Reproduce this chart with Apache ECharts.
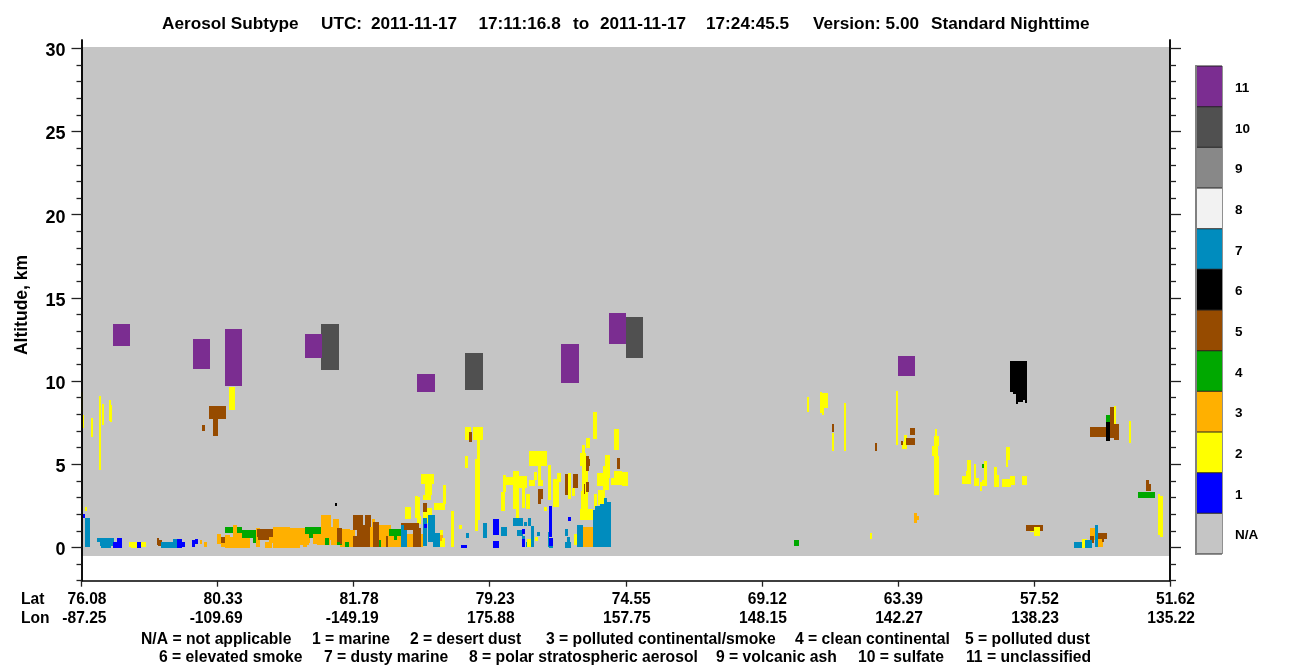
<!DOCTYPE html>
<html><head><meta charset="utf-8">
<style>html,body{margin:0;padding:0;background:#fff}#c{width:1300px;height:667px}</style>
<script src="https://cdn.jsdelivr.net/npm/echarts@6/dist/echarts.min.js"></script>
</head><body><div id="c"></div>
<script>
// Along-track position is in profile steps (136 steps per labelled tick); altitude is in 60 m range bins.
// Each row: [startStep, endStep, lowBin, highBin]
const BIN_KM = 0.0601;
const latLabels = ['76.08','80.33','81.78','79.23','74.55','69.12','63.39','57.52','51.62'];
const lonLabels = ['-87.25','-109.69','-149.19','175.88','157.75','148.15','142.27','138.23','135.22'];
const altMajor = [0,5,10,15,20,25,30];
const altMinor = [-2,-1,1,2,3,4,6,7,8,9,11,12,13,14,16,17,18,19,21,22,23,24,26,27,28,29];
const legendLabels = ['N/A','1','2','3','4','5','6','7','8','9','10','11'];
const legendColors = ['#c5c5c5','#0000ff','#ffff00','#ffb000','#00a800','#964b00','#000000','#008cbe','#f2f2f2','#888888','#505050','#7b2d91'];
const notApplicable = [[0,1088,-9,500]];
const unclassified = [[32,49,201,223],[112,129,178,208],[144,161,161,218],[224,241,189,213],[336,354,155,173],[480,498,164,203],[528,545,203,234],[817,834,171,191]];
const sulfate = [[240,258,177,223],[384,402,157,194],[545,562,189,230]];
const elevatedSmoke = [[254,256,41,44],[929,946,155,186],[932,946,153,155],[935,946,147,153],[935,937,143,147],[937,942,145,147],[944,946,144,147],[1025,1029,106,125]];
const dustyMarine = [[4,9,0,29],[16,33,5,9],[19,33,1,5],[20,30,-1,1],[80,92,-1,5],[92,96,-1,8],[320,323,0,22],[323,326,0,17],[342,346,1,29],[347,354,5,32],[352,359,0,14],[385,388,9,14],[402,406,9,24],[420,426,11,20],[432,442,21,29],[436,442,11,17],[443,446,21,25],[447,450,21,29],[450,453,0,21],[441,444,8,11],[445,446,0,5],[456,459,11,15],[467,468,0,15],[468,472,-1,1],[484,487,11,18],[486,489,5,10],[484,490,-1,5],[496,502,0,22],[512,514,0,37],[514,519,0,41],[519,523,0,43],[523,526,0,49],[526,530,0,45],[993,1001,-1,5],[1004,1011,-1,7],[1014,1017,0,22]];
const marine = [[2,4,29,33],[36,41,-1,9],[32,36,-1,5],[56,60,-1,5],[96,101,-1,8],[101,104,0,5],[111,114,0,7],[114,117,3,8],[343,346,19,23],[380,386,-1,2],[412,418,12,28],[412,418,-1,6],[441,444,13,18],[441,444,0,8],[468,471,10,41],[468,472,1,9],[487,490,26,30]];
const desertDust = [[0,2,135,155],[1,3,119,132],[10,12,110,129],[18,20,77,151],[21,23,122,143],[28,30,126,147],[29,31,125,142],[148,154,137,160],[4,6,36,40],[48,65,0,5],[50,56,-1,0],[324,330,28,40],[334,337,29,51],[337,339,31,50],[336,340,23,31],[340,353,63,73],[344,351,52,63],[342,350,47,52],[344,351,32,39],[342,348,24,35],[353,364,37,44],[362,365,43,62],[359,362,12,17],[359,362,0,6],[361,364,0,9],[370,373,0,36],[378,381,18,22],[384,390,107,120],[392,402,107,120],[396,399,88,107],[394,399,27,88],[394,397,16,27],[384,387,79,91],[420,424,36,55],[422,425,55,72],[425,432,62,70],[432,438,38,76],[438,446,59,71],[441,444,39,59],[445,449,38,53],[448,454,61,67],[453,456,67,75],[448,466,81,96],[457,460,61,81],[458,462,61,67],[463,466,36,40],[467,470,47,82],[472,478,40,68],[476,480,65,74],[435,438,27,38],[446,450,0,8],[454,457,6,10],[487,490,48,74],[491,494,51,59],[493,496,2,13],[499,512,27,38],[500,507,37,56],[501,507,56,81],[499,505,81,94],[501,504,94,102],[505,509,99,109],[512,516,108,135],[513,516,39,53],[517,524,42,57],[516,525,61,74],[522,528,57,81],[524,529,69,92],[533,538,97,118],[530,539,62,69],[533,541,62,76],[541,547,61,75],[536,539,78,89],[726,728,135,150],[739,741,134,155],[741,743,132,154],[743,747,139,154],[751,753,96,114],[763,765,96,144],[815,817,102,156],[789,791,8,14],[821,826,98,105],[823,826,105,112],[853,858,101,111],[854,856,111,118],[851,857,91,101],[853,858,52,91],[881,890,63,71],[885,890,71,76],[886,890,76,87],[893,895,69,83],[893,898,61,69],[899,901,56,65],[901,906,61,67],[903,906,67,86],[913,918,60,72],[913,916,72,80],[921,930,60,68],[929,934,62,71],[925,927,80,100],[927,929,87,100],[941,946,62,71],[953,959,11,20],[949,953,15,16],[1001,1006,-1,8],[1009,1011,4,10],[1033,1035,123,141],[1048,1050,104,126],[1077,1079,12,53],[1079,1082,10,51]];
const pollutedContinental = [[119,121,3,7],[123,126,0,5],[136,140,3,13],[144,169,-1,10],[140,144,0,4],[152,156,10,22],[144,149,10,12],[156,161,10,14],[175,179,0,19],[184,191,-1,5],[188,229,4,15],[192,209,-1,20],[196,219,-1,4],[209,228,2,19],[222,226,0,2],[232,244,3,13],[236,249,2,18],[240,250,7,32],[250,256,2,20],[252,258,14,28],[260,269,2,18],[258,260,2,15],[259,274,0,17],[268,272,0,11],[289,292,0,20],[291,294,20,28],[296,310,0,22],[298,321,0,11],[325,332,0,13],[340,342,0,13],[359,362,6,13],[500,512,0,20],[833,836,24,34],[836,838,27,31],[1009,1014,7,19],[1017,1022,0,11]];
const cleanContinental = [[144,152,14,20],[156,161,14,20],[161,175,9,17],[172,175,4,9],[224,240,13,20],[228,232,9,13],[244,248,2,9],[256,261,2,7],[264,268,0,5],[296,300,0,7],[308,321,11,18],[313,316,7,11],[713,718,1,7],[901,903,79,83],[1025,1029,125,132],[1057,1074,49,55]];
const pollutedDust = [[128,145,128,141],[132,137,111,128],[121,124,116,122],[76,78,2,9],[77,81,1,7],[140,144,4,10],[176,192,10,18],[177,188,7,10],[256,261,5,19],[259,261,3,19],[272,282,17,32],[284,290,20,32],[276,289,0,22],[272,276,0,11],[292,298,0,25],[305,307,0,11],[320,338,17,24],[332,340,0,19],[342,346,35,44],[388,391,105,115],[457,460,43,58],[460,462,48,58],[484,487,52,73],[492,497,59,73],[505,508,76,91],[508,509,81,88],[505,508,55,65],[503,504,53,63],[536,539,78,89],[751,753,115,123],[794,796,96,104],[825,834,102,109],[829,834,112,119],[820,822,102,106],[945,953,16,22],[953,959,20,22],[959,962,16,22],[1009,1013,4,11],[1017,1026,8,14],[1021,1023,5,8],[1009,1025,110,120],[1029,1033,109,140],[1033,1038,107,123],[1065,1068,63,67],[1065,1070,56,63]];
const titleParts = [['Aerosol Subtype',162],['UTC:',321],['2011-11-17',371],['17:11:16.8',478.5],['to',573],['2011-11-17',600],['17:24:45.5',706],['Version: 5.00',813],['Standard Nighttime',931]];
const noteLine1 = [['N/A = not applicable',141],['1 = marine',312],['2 = desert dust',410],['3 = polluted continental/smoke',546],['4 = clean continental',795],['5 = polluted dust',965]];
const noteLine2 = [['6 = elevated smoke',159],['7 = dusty marine',324],['8 = polar stratospheric aerosol',469],['9 = volcanic ash',716],['10 = sulfate',858],['11 = unclassified',966]];

const FONT = '"Liberation Sans", Arial, sans-serif';
const drawOrder = [
  [notApplicable,0],[pollutedContinental,3],[cleanContinental,4],[desertDust,2],[pollutedDust,5],
  [dustyMarine,7],[marine,1],[elevatedSmoke,6],[sulfate,10],[unclassified,11]
];
function renderCell(params, api){
  const a = api.coord([api.value(0), api.value(2)]);
  const b = api.coord([api.value(1), api.value(3)]);
  const x0 = Math.floor(a[0]), x1 = Math.floor(b[0]);
  const y0 = Math.round(a[1]), y1 = Math.round(b[1]);
  return {type:'rect', shape:{x:x0, y:y1, width:x1-x0, height:y0-y1}, style:{fill:api.visual('color')}};
}
const series = drawOrder.map(([rows,idx]) => ({
  type:'custom', name:legendLabels[idx], coordinateSystem:'cartesian2d', xAxisIndex:0, yAxisIndex:0,
  renderItem:renderCell, silent:true, clip:false, itemStyle:{color:legendColors[idx]},
  encode:{x:[0,1], y:[2,3]},
  data:rows.map(r => [r[0], r[1], r[2]*BIN_KM, r[3]*BIN_KM])
}));
series.push({
  type:'bar', xAxisIndex:1, yAxisIndex:4, barCategoryGap:'2.5%', silent:true,
  data:legendColors.map(c => ({value:1, itemStyle:{color:c}}))
});
const altAxis = (pos, values, len, labels) => ({
  type:'value', gridIndex:0, position:pos, min:-2, max:30.5, z:5, splitLine:{show:false},
  axisLine:{show:true, onZero:false, lineStyle:{color:'#000', width:1.5}},
  axisTick:{show:true, customValues:values, length:len, lineStyle:{color:'#222', width:1.3}},
  axisLabel:labels ? {show:true, customValues:values, margin:16,
    formatter:(v) => '{t|'+v+'}',
    rich:{t:{padding:[6,0,0,0], color:'#000', fontFamily:FONT, fontWeight:'bold', fontSize:18}}} : {show:false}
});
const legendSide = (pos, labels) => ({
  type:'category', gridIndex:1, position:pos, data:legendLabels, z:5, splitLine:{show:false},
  axisLine:{show:true, lineStyle:{color:'#808080', width:2}}, axisTick:{show:false},
  axisLabel:labels ? {show:true, margin:13, formatter:(v) => '{t|'+v+'}',
    rich:{t:{padding:[4,0,0,0], color:'#000', fontFamily:FONT, fontWeight:'bold', fontSize:13.5}}} : {show:false}
});
const textItem = (text, x, y, size) => ({type:'text', x, y, silent:true,
  style:{text, fill:'#000', font:'bold '+size+'px '+FONT, textVerticalAlign:'middle'}});
const option = {
  animation:false, backgroundColor:'#fff',
  grid:[
    {left:81.5, top:40, width:1088.5, height:540.7, outerBoundsMode:'none'},
    {left:1196, top:66, width:26, height:488, outerBoundsMode:'none', show:true, backgroundColor:'#222', borderColor:'#222', borderWidth:1}
  ],
  xAxis:[
    {type:'value', gridIndex:0, min:0, max:1088, interval:136, position:'bottom', z:5, splitLine:{show:false},
     axisLine:{show:true, onZero:false, lineStyle:{color:'#000', width:1.5}},
     axisTick:{show:true, length:6, lineStyle:{color:'#222', width:1.3}},
     axisLabel:{show:true, margin:10, showMinLabel:true, showMaxLabel:true, hideOverlap:false,
       formatter:(v) => { const i = Math.round(v/136); return '{a|'+latLabels[i]+'}\n{a|'+lonLabels[i]+'}'; },
       rich:{a:{width:50, align:'right', lineHeight:18.5, color:'#000', fontFamily:FONT, fontWeight:'bold', fontSize:15.6}}}},
    {type:'value', gridIndex:1, min:0, max:1, show:false}
  ],
  yAxis:[
    altAxis('left', altMajor, 10, true),
    altAxis('left', altMinor, 5, false),
    altAxis('right', altMajor, 11, false),
    altAxis('right', altMinor, 6, false),
    legendSide('right', true),
    legendSide('left', false)
  ],
  graphic:{elements:[
    ...titleParts.map(([t,x]) => textItem(t, x, 24, 17.2)),
    textItem('Lat', 21, 600, 15.6),
    textItem('Lon', 21, 618.5, 15.6),
    {type:'text', x:22, y:305, rotation:Math.PI/2, silent:true,
     style:{text:'Altitude, km', fill:'#000', font:'bold 17.5px '+FONT, textAlign:'center', textVerticalAlign:'middle'}},
    ...noteLine1.map(([t,x]) => textItem(t, x, 639.5, 15.7)),
    ...noteLine2.map(([t,x]) => textItem(t, x, 657.5, 15.7))
  ]},
  series
};
echarts.init(document.getElementById('c'), null, {renderer:'canvas'}).setOption(option);
</script></body></html>
